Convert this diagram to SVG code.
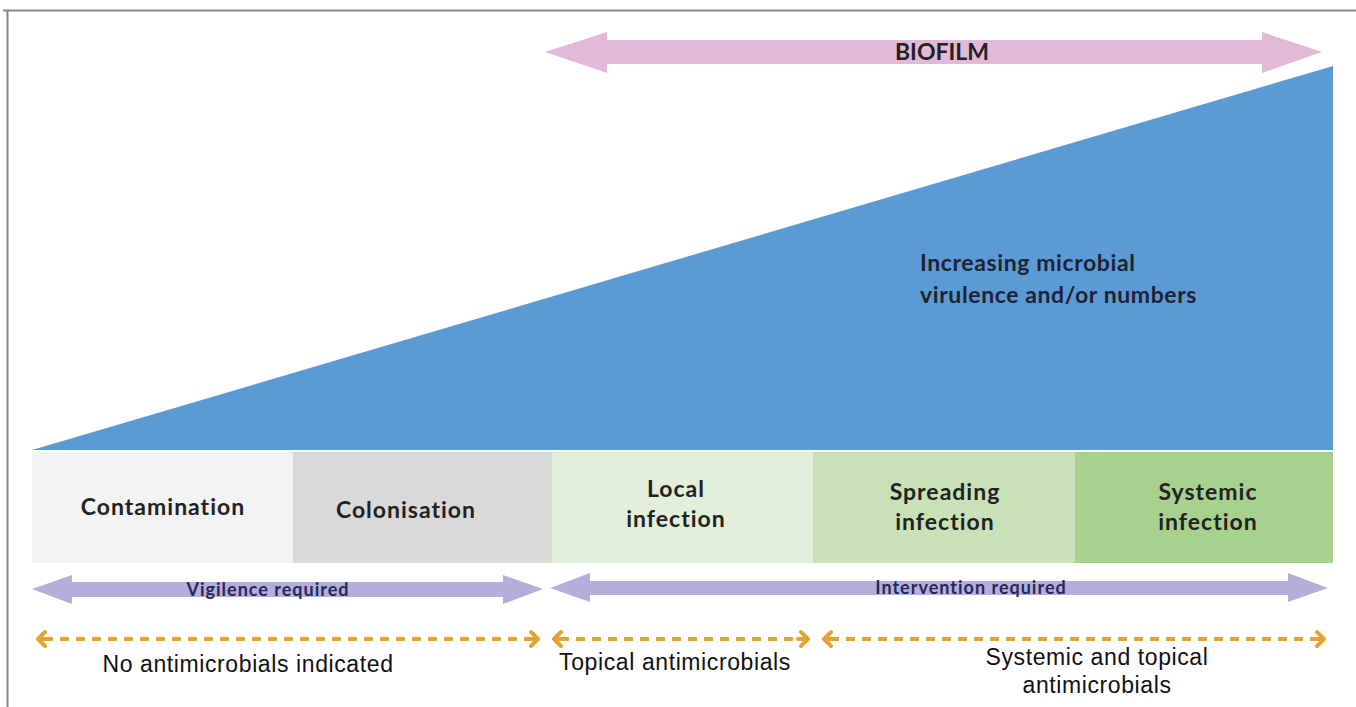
<svg xmlns="http://www.w3.org/2000/svg" width="1356" height="707" viewBox="0 0 1356 707">
<defs>
<style>
.lbl{font-family:Lato,"Open Sans",sans-serif;font-weight:700;fill:#222;text-anchor:middle}
.left{text-anchor:start;font-size:23px;letter-spacing:0.6px;fill:#1e2233}
.box{font-size:23px;letter-spacing:1px}
.purp{font-size:18px;letter-spacing:1px;fill:#24285a}
.ab{font-family:"Liberation Sans",Arial,sans-serif;font-size:23px;letter-spacing:0.6px;fill:#111;text-anchor:middle}
.dash{stroke:#e3a530;stroke-width:4;stroke-dasharray:9 7;fill:none}
.head{stroke:#e3a530;stroke-width:4;fill:none;stroke-linecap:round;stroke-linejoin:round}
</style>
</defs>
<rect width="1356" height="707" fill="#fff"/>
<path d="M3 10.5H1356M7.5 10V707" stroke="#888" stroke-width="2" fill="none"/>
<g id="biofilm">
<polygon points="545,52 607,32 607,40 1262,40 1262,32 1322,52 1262,73 1262,64 607,64 607,73" fill="#e2b9d9"/>
<text class="lbl" x="942" y="60" font-size="23">BIOFILM</text>
</g>
<g id="triangle">
<polygon points="32,450 1333,66 1333,450" fill="#5b9bd5"/>
<text class="lbl left"><tspan x="920" y="271">Increasing microbial</tspan><tspan x="920" y="303">virulence and/or numbers</tspan></text>
</g>
<g id="contamination">
<rect x="32" y="452" width="261" height="111" fill="#f3f3f3"/>
<text class="lbl box" x="163" y="515">Contamination</text>
</g>
<g id="colonisation">
<rect x="293" y="452" width="259" height="111" fill="#d9d9d9"/>
<text class="lbl box" x="406" y="518">Colonisation</text>
</g>
<g id="local">
<rect x="552" y="452" width="261" height="111" fill="#e3efdb"/>
<text class="lbl box"><tspan x="676" y="497">Local</tspan><tspan x="676" y="527">infection</tspan></text>
</g>
<g id="spreading">
<rect x="813" y="452" width="262" height="111" fill="#c8e1b6"/>
<text class="lbl box"><tspan x="945" y="500">Spreading</tspan><tspan x="945" y="530">infection</tspan></text>
</g>
<g id="systemic">
<rect x="1075" y="452" width="258" height="111" fill="#a9d18e"/>
<text class="lbl box"><tspan x="1208" y="500">Systemic</tspan><tspan x="1208" y="530">infection</tspan></text>
</g>
<g id="vigilence">
<polygon points="32,589 72,575 72,582 503,582 503,575 543,589 503,604 503,597 72,597 72,604" fill="#b5aedb"/>
<text class="lbl purp" x="268" y="596">Vigilence required</text>
</g>
<g id="intervention">
<polygon points="550,588 590,573 590,581 1288,581 1288,573 1328,588 1288,602 1288,595 590,595 590,602" fill="#b5aedb"/>
<text class="lbl purp" x="971" y="594">Intervention required</text>
</g>
<g id="connectors">
<path class="dash" d="M44 639H532"/>
<path class="head" d="M45 632L38 639L45 646M38 639H48M531 632L538 639L531 646M538 639H528"/>
<path class="dash" d="M560 639H802"/>
<path class="head" d="M561 632L554 639L561 646M554 639H564M801 632L808 639L801 646M808 639H798"/>
<path class="dash" d="M830 639H1318"/>
<path class="head" d="M831 632L824 639L831 646M824 639H834M1317 632L1324 639L1317 646M1324 639H1314"/>
</g>
<g id="antimicrobial-labels">
<text class="ab" x="248" y="672">No antimicrobials indicated</text>
<text class="ab" x="675" y="670">Topical antimicrobials</text>
<text class="ab"><tspan x="1097" y="665">Systemic and topical</tspan><tspan x="1097" y="693">antimicrobials</tspan></text>
</g>
</svg>
